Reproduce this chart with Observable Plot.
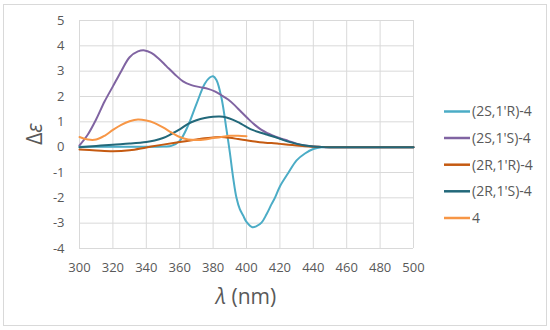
<!DOCTYPE html>
<html><head><meta charset="utf-8">
<script src="https://cdn.jsdelivr.net/npm/d3@7"></script>
<script src="https://cdn.jsdelivr.net/npm/@observablehq/plot@0.6"></script>
<style>body{margin:0;background:#fff} #c{position:relative;width:550px;height:330px}</style>
</head><body><div id="c"></div>
<script>
const seriesNames = ["(2S,1'R)-4", "(2S,1'S)-4", "(2R,1'R)-4", "(2R,1'S)-4", "4"];
const seriesColors = ["#4BACC6", "#8064A2", "#C55A11", "#22687A", "#F79646"];
const xTicks = [300, 320, 340, 360, 380, 400, 420, 440, 460, 480, 500];
const yTicks = [-4, -3, -2, -1, 0, 1, 2, 3, 4, 5];

const wl_2S1R = [300,310,320,330,340,350,355,360,365,370,375,378,380,382,385,388,390,392,394,396,398,400,403.5,406,409,412,415,417,420,425,430,435,440,445,450,500];
const de_2S1R = [0.02,0.02,0.02,0.02,0.02,0.03,0.05,0.25,0.85,1.7,2.5,2.75,2.8,2.65,1.95,0.7,-0.2,-1.2,-2.0,-2.45,-2.7,-2.95,-3.16,-3.12,-2.98,-2.65,-2.25,-2.0,-1.55,-1.02,-0.52,-0.25,-0.07,0,0,0];

const wl_2S1S = [300,305,310,315,320,325,330,335,339,343,347,352,357,362,367,372,377,381,385,389,393,397,401,405,409,413,417,421,425,430,435,440,445,450,500];
const de_2S1S = [0.07,0.5,1.1,1.8,2.4,3.0,3.55,3.78,3.82,3.72,3.52,3.2,2.88,2.6,2.45,2.37,2.3,2.2,2.05,1.88,1.65,1.38,1.12,0.88,0.68,0.54,0.42,0.33,0.25,0.14,0.07,0.03,0.01,0,0];

const wl_2R1R = [300,310,320,330,340,350,360,370,375,380,385,390,395,400,405,410,415,420,425,430,435,440,445,450,500];
const de_2R1R = [-0.09,-0.13,-0.16,-0.12,-0.01,0.1,0.2,0.3,0.35,0.38,0.4,0.37,0.32,0.27,0.22,0.18,0.16,0.13,0.1,0.07,0.04,0.02,0.01,0,0];

const wl_2R1S = [300,310,320,330,340,345,350,355,360,365,370,375,380,384,388,392,396,400,404,408,412,416,420,425,430,435,440,445,450,500];
const de_2R1S = [0.0,0.05,0.1,0.14,0.2,0.26,0.36,0.52,0.7,0.92,1.06,1.15,1.2,1.21,1.17,1.08,0.95,0.8,0.67,0.58,0.5,0.42,0.33,0.22,0.13,0.07,0.03,0.01,0,0];

const wl_4 = [300,305,310,315,320,325,330,335,340,345,350,355,360,365,370,375,380,385,390,395,400];
const de_4 = [0.4,0.3,0.3,0.45,0.68,0.88,1.02,1.09,1.05,0.95,0.78,0.58,0.4,0.3,0.28,0.3,0.36,0.4,0.45,0.45,0.43];

const seriesX = [wl_2S1R, wl_2S1S, wl_2R1R, wl_2R1S, wl_4];
const seriesY = [de_2S1R, de_2S1S, de_2R1R, de_2R1S, de_4];

const data = seriesNames.flatMap((name, s) => seriesX[s].map((x, i) => ({series: name, x, y: seriesY[s][i]})));

const chart = Plot.plot({
  width: 550, height: 330,
  marginLeft: 79, marginRight: 137, marginTop: 20, marginBottom: 82,
  style: {fontFamily: "'Open Sans', sans-serif", fontSize: "13px", color: "#595959", background: "#ffffff"},
  x: {domain: [300, 500], ticks: xTicks, tickSize: 0, tickPadding: 14, label: null, tickFormat: d => String(d)},
  y: {domain: [-4, 5], ticks: yTicks, tickSize: 0, tickPadding: 15, label: null, tickFormat: d => String(d)},
  color: {domain: seriesNames, range: seriesColors},
  marks: [
    Plot.gridX(xTicks, {stroke: "#D9D9D9", strokeOpacity: 1, strokeWidth: 1}),
    Plot.gridY(yTicks, {stroke: "#D9D9D9", strokeOpacity: 1, strokeWidth: 1}),
    Plot.line(data, {x: "x", y: "y", z: "series", stroke: "series", strokeWidth: 2, curve: "catmull-rom"})
  ]
});
document.getElementById("c").appendChild(chart);

const svg = d3.select(chart);
svg.insert("rect", ":first-child")
  .attr("x", 3.5).attr("y", 4.5).attr("width", 543).attr("height", 321)
  .attr("fill", "#ffffff").attr("stroke", "#D9D9D9").attr("stroke-width", 1);

const xt = svg.append("text").attr("x", 246).attr("y", 304).attr("text-anchor", "middle")
  .attr("font-size", 21).attr("fill", "#595959").attr("font-family", "'Open Sans', sans-serif");
xt.append("tspan").attr("font-style", "italic").text("λ");
xt.append("tspan").text(" (nm)");

const yt = svg.append("text").attr("transform", "translate(42,134) rotate(-90)").attr("text-anchor", "middle")
  .attr("font-size", 21).attr("fill", "#595959").attr("font-family", "'Open Sans', sans-serif");
yt.append("tspan").text("Δ");
yt.append("tspan").attr("font-style", "italic").text("ε");

const legendY = [111.5, 138, 164.7, 191.3, 218];
const lg = svg.append("g").attr("text-anchor", "start");
seriesNames.forEach((name, i) => {
  lg.append("line").attr("x1", 444).attr("x2", 470).attr("y1", legendY[i]).attr("y2", legendY[i])
    .attr("stroke", seriesColors[i]).attr("stroke-width", 2.5);
  lg.append("text").attr("x", 472).attr("y", legendY[i]).attr("dy", "0.35em").attr("text-anchor", "start")
    .attr("font-size", 14).attr("fill", "#595959").attr("font-family", "'Open Sans', sans-serif").text(name);
});
</script>
</body></html>
